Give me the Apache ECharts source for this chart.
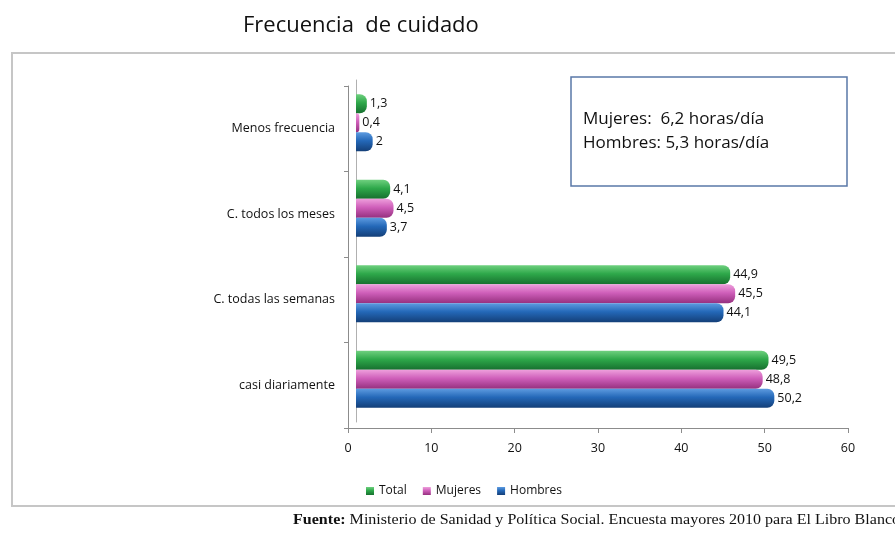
<!DOCTYPE html>
<html>
<head>
<meta charset="utf-8">
<script src="https://cdn.jsdelivr.net/npm/echarts@6/dist/echarts.min.js"></script>
<style>
  html, body { margin: 0; padding: 0; background: #fff; }
  #chart { width: 895px; height: 539px; }
</style>
</head>
<body>
<div id="chart"></div>
<script>
(()=>{
  const categories = ['Menos frecuencia', 'C. todos los meses', 'C. todas las semanas', 'casi diariamente'];
  const total = [1.3, 4.1, 44.9, 49.5];
  const mujeres = [0.4, 4.5, 45.5, 48.8];
  const hombres = [2, 3.7, 44.1, 50.2];
  const xTicks = [0, 10, 20, 30, 40, 50, 60];

  const FONT = '"Open Sans", "Noto Sans", sans-serif';
  const fmt = (v)=> String(v).replace('.', ',');

  const grad = (a, b, c)=>({
    type: 'linear', x: 0, y: 0, x2: 0, y2: 1,
    colorStops: [
      {offset: 0, color: a},
      {offset: 0.45, color: b},
      {offset: 1, color: c}
    ]
  });

  const mkSeries = (name, data, g)=>({
    name,
    type: 'bar',
    xAxisIndex: 1,
    yAxisIndex: 1,
    data,
    barWidth: 19,
    barGap: '0%',
    itemStyle: {color: g, borderRadius: [0, 7, 7, 0]},
    label: {
      show: true,
      position: 'right',
      distance: 3,
      fontFamily: FONT,
      fontSize: 12.5,
      color: '#111',
      formatter: (p)=> fmt(p.value)
    }
  });

  const myChart = echarts.init(document.getElementById('chart'));

  const option = {
    backgroundColor: '#fff',
    animation: false,
    title: {
      text: 'Frecuencia  de cuidado',
      left: 238,
      top: 10,
      textStyle: {fontFamily: FONT, fontSize: 22, fontWeight: 'normal', color: '#111'}
    },
    legend: {
      data: ['Total', 'Mujeres', 'Hombres'],
      left: 361,
      top: 480,
      icon: 'rect',
      itemWidth: 8,
      itemHeight: 8,
      itemGap: 16,
      textStyle: {fontFamily: FONT, fontSize: 12, color: '#111'}
    },
    grid: [
      {left: 348, right: 47, top: 86, bottom: 111},
      {left: 356, right: 39, top: 80, bottom: 117}
    ],
    xAxis: [
      {
        gridIndex: 0,
        type: 'value',
        min: xTicks[0],
        max: xTicks[xTicks.length - 1],
        interval: 10,
        splitLine: {show: false},
        axisLine: {show: true, lineStyle: {color: '#8c8c8c'}},
        axisTick: {show: true, length: 5, lineStyle: {color: '#8c8c8c'}},
        axisLabel: {fontFamily: FONT, fontSize: 12.5, color: '#111', margin: 14}
      },
      {
        gridIndex: 1,
        type: 'value',
        min: xTicks[0],
        max: xTicks[xTicks.length - 1],
        show: false,
        splitLine: {show: false}
      }
    ],
    yAxis: [
      {
        gridIndex: 0,
        type: 'category',
        inverse: true,
        data: categories,
        axisLine: {show: true, lineStyle: {color: '#8c8c8c'}},
        axisTick: {show: true, length: 4, lineStyle: {color: '#8c8c8c'}},
        axisLabel: {fontFamily: FONT, fontSize: 12.5, color: '#111', margin: 13}
      },
      {
        gridIndex: 1,
        type: 'category',
        inverse: true,
        data: categories,
        axisLine: {show: true, lineStyle: {color: '#b0b0b0'}},
        axisTick: {show: false},
        axisLabel: {show: false}
      }
    ],
    graphic: [
      {
        type: 'rect',
        shape: {x: 12, y: 53, width: 900, height: 453},
        style: {fill: 'none', stroke: '#c6c6c6', lineWidth: 2},
        z: -1
      },
      {
        type: 'rect',
        shape: {x: 571, y: 77, width: 276, height: 109},
        style: {fill: '#fff', stroke: '#5a78a8', lineWidth: 1.5}
      },
      {
        type: 'text',
        left: 583,
        top: 107,
        style: {
          text: 'Mujeres:  6,2 horas/día\nHombres: 5,3 horas/día',
          fontFamily: FONT,
          fontSize: 17,
          lineHeight: 24,
          fill: '#111'
        }
      },
      {
        type: 'text',
        left: 293,
        top: 513,
        scaleX: 1.07,
        style: {
          text: '{b|Fuente:} Ministerio de Sanidad y Política Social. Encuesta mayores 2010 para El Libro Blanco',
          fontFamily: '"Liberation Serif", serif',
          fontSize: 15,
          fill: '#111',
          rich: {
            b: {fontFamily: '"Liberation Serif", serif', fontSize: 15, fontWeight: 'bold', fill: '#111'}
          }
        }
      }
    ],
    series: [
      mkSeries('Total', total, grad('#6fd07f', '#2ea84a', '#17702f')),
      mkSeries('Mujeres', mujeres, grad('#ee9fdc', '#cf5fba', '#96307f')),
      mkSeries('Hombres', hombres, grad('#5d9be0', '#2468b8', '#143f78'))
    ]
  };

  myChart.setOption(option);
})();
</script>
</body>
</html>
